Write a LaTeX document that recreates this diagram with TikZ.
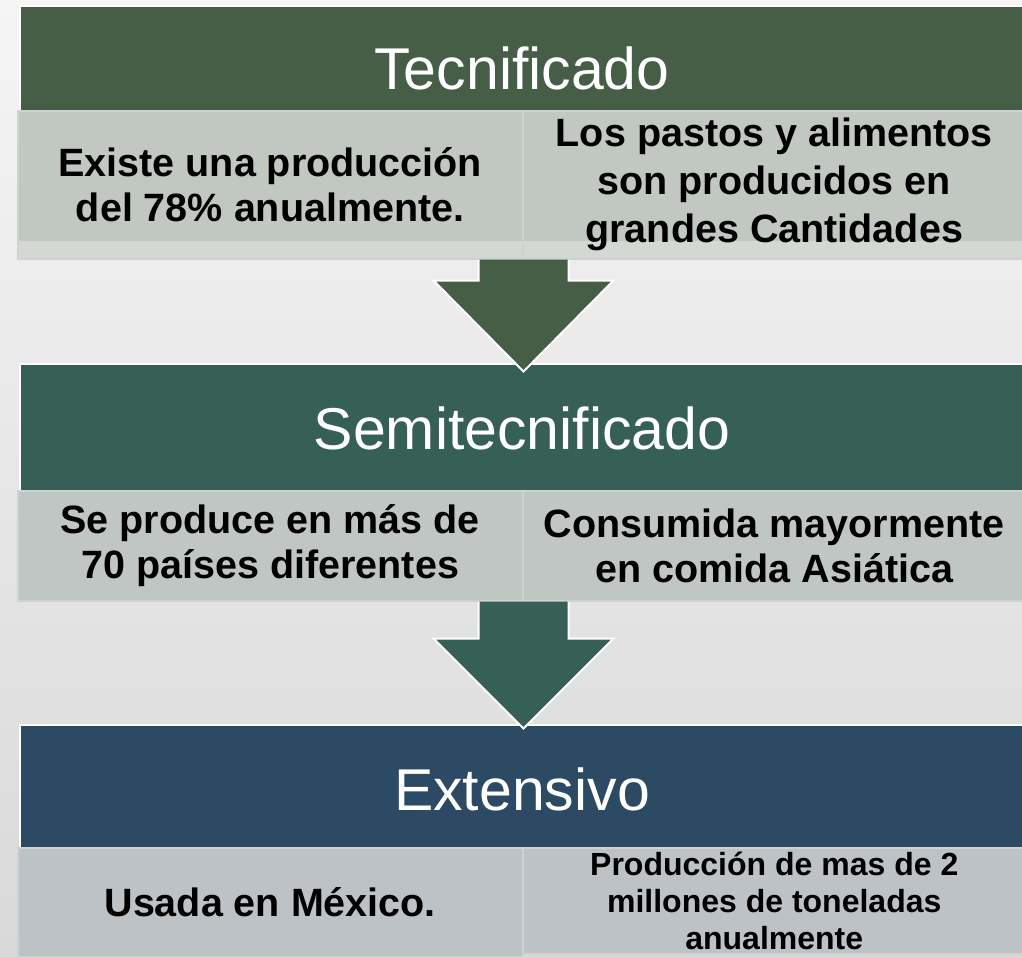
\documentclass[tikz,border=0pt]{standalone}
\usepackage{fontspec}
\setmainfont{Liberation Sans}
\usetikzlibrary{calc}
\definecolor{verdeA}{HTML}{465E45}
\definecolor{verdeB}{HTML}{365F55}
\definecolor{azulC}{HTML}{2C4A63}
\definecolor{grisA}{HTML}{C1C7C1}
\definecolor{grisB}{HTML}{BFC6C3}
\definecolor{grisC}{HTML}{BCC2C6}
\definecolor{franja}{HTML}{D4D8D5}
\definecolor{borde}{HTML}{CED2D0}

\begin{document}
\begin{tikzpicture}[x=1pt,y=-1pt,
    cabeza/.style={draw=white,line width=1.5pt,anchor=north west,minimum width=1006pt,inner sep=0pt},
    titulo/.style={text=white,inner sep=0pt,font=\fontsize{59}{62}\selectfont},
    celda/.style={draw=borde,line width=1.5pt,anchor=north west,inner sep=0pt,align=center,
      font=\bfseries\fontsize{39.5}{45}\selectfont},
    flecha/.style={draw=white,line width=2pt,line join=miter}]
  \shade[top color=black!4,bottom color=black!15] (0,0) rectangle (1022,956);
  \useasboundingbox (0,0) rectangle (1022,956);

  \node[cabeza,fill=verdeA,minimum height=105pt](htec)at(19,5){};
  \node[celda,fill=franja,minimum width=505pt,minimum height=148pt,
    path picture={\fill[grisA] (path picture bounding box.north west) rectangle ([yshift=18pt]path picture bounding box.south east);}]
    (tec1)at(17,110){Existe una producción\\del 78\% anualmente.};
  \node[celda,fill=franja,minimum width=503pt,minimum height=148pt,font=\bfseries\fontsize{39.5}{48}\selectfont,
    path picture={\fill[grisA] (path picture bounding box.north west) rectangle ([yshift=18pt]path picture bounding box.south east);}]
    (tec2)at(522,110){Los pastos y alimentos\\son producidos en\\grandes Cantidades};
  \node[titulo](ttec)at(522,68){Tecnificado};

  \node[cabeza,fill=verdeB,minimum height=127pt](hsemi)at(19,363){};
  \node[celda,fill=grisB,minimum width=505pt,minimum height=110pt](semi1)at(17,490){Se produce en más de\\70 países diferentes};
  \node[celda,fill=grisB,minimum width=503pt,minimum height=110pt](semi2)at(522,490){Consumida mayormente\\en comida Asiática};
  \node[titulo](tsemi)at(522,428){Semitecnificado};

  \node[cabeza,fill=azulC,minimum height=123pt](hext)at(19,724){};
  \node[celda,fill=grisC,minimum width=505pt,minimum height=109pt](ext1)at(17,847){Usada en México.};
  \node[celda,fill=grisC,minimum width=503pt,minimum height=106pt,font=\bfseries\fontsize{32}{37}\selectfont]
    (ext2)at(522,847){Producción de mas de 2\\millones de toneladas\\anualmente};
  \node[titulo](text)at(522,789){Extensivo};

  \path[flecha,fill=verdeA,shift={(tec1.south east)}] (-45,0) -- (-45,21) -- (-90,21) -- (0,112) -- (90,21) -- (45,21) -- (45,0);
  \path[flecha,fill=verdeB,shift={(semi1.south east)}] (-45,0) -- (-45,37) -- (-90,37) -- (0,127) -- (90,37) -- (45,37) -- (45,0);
\end{tikzpicture}
\end{document}
